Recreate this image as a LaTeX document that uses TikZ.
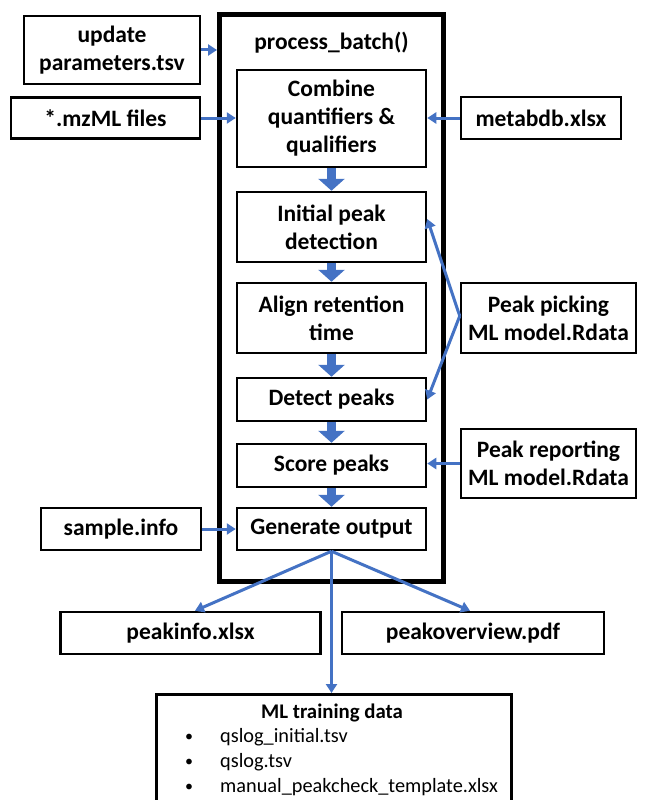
\documentclass[tikz,border=0pt]{standalone}
\usepackage{fontspec}
\setmainfont{Carlito}
\usetikzlibrary{arrows.meta}
\definecolor{arrblue}{HTML}{4472C4}
\begin{document}
\begin{tikzpicture}[x=1pt,y=-1pt,
  box/.style={draw=black,line width=2.5pt,fill=white,align=center,inner sep=0pt,
    font=\fontsize{23.5}{28}\selectfont\bfseries},
  conn/.style={draw=arrblue,line width=3pt,-{Triangle[width=11pt,length=9pt]}},
  blockarr/.style={draw=arrblue,line width=9pt,-{Triangle[width=26pt,length=12pt]}},
  txt/.style={inner sep=0pt,font=\fontsize{20.3}{25}\selectfont},
]
\useasboundingbox (0,0) rectangle (648,800);
\fill[white] (0,0) rectangle (648,800);
% outer process box
\node[draw=black,line width=5pt,minimum width=224pt,minimum height=566pt,inner sep=0pt] (pb) at (331.5,298) {};
\node[txt,font=\fontsize{23.5}{28}\selectfont\bfseries] (pbl) at (331.5,43) {process\_batch()};
% inputs
\node[box,minimum width=176pt,minimum height=68pt] (upd) at (112,50) {update\\parameters.tsv};
\node[box,minimum width=189pt,minimum height=41pt] (mz) at (105.5,118) {*.mzML files};
\node[box,minimum width=160pt,minimum height=42pt] (meta) at (541,118) {metabdb.xlsx};
\node[box,minimum width=160pt,minimum height=42pt] (samp) at (121,529) {sample.info};
\node[box,minimum width=175pt,minimum height=70pt] (pp) at (548.5,318) {Peak picking\\ML model.Rdata};
\node[box,minimum width=175pt,minimum height=69pt] (pr) at (548.5,463.5) {Peak reporting\\ML model.Rdata};
% inner steps
\node[box,minimum width=189pt,minimum height=97pt] (comb) at (331.5,118.5) {Combine\\quantifiers \&\\qualifiers};
\node[box,minimum width=189pt,minimum height=70pt] (init) at (331.5,227) {Initial peak\\detection};
\node[box,minimum width=189pt,minimum height=70pt] (align) at (331.5,318) {Align retention\\time};
\node[box,minimum width=189pt,minimum height=43pt] (detect) at (331.5,399.5) {Detect peaks};
\node[box,minimum width=189pt,minimum height=43pt] (score) at (331.5,465.5) {Score peaks};
\node[box,minimum width=189pt,minimum height=42pt] (gen) at (331.5,529) {Generate output};
% outputs
\node[box,minimum width=260pt,minimum height=42pt] (pinfo) at (190.5,633) {peakinfo.xlsx};
\node[box,minimum width=262pt,minimum height=42pt] (pov) at (473,633) {peakoverview.pdf};
\node[draw=black,line width=2.5pt,minimum width=355pt,minimum height=130pt,inner sep=0pt,anchor=north west] (ml) at (155,693) {};
\node[txt,anchor=base,font=\fontsize{20.8}{25}\selectfont\bfseries] (mlt) at (332,718) {ML training data};
\node[txt,anchor=base,font=\fontsize{16}{20}\selectfont] (b1) at (189,741) {\textbullet};
\node[txt,anchor=base west] (i1) at (220,742) {qslog\_initial.tsv};
\node[txt,anchor=base,font=\fontsize{16}{20}\selectfont] (b2) at (189,766) {\textbullet};
\node[txt,anchor=base west] (i2) at (220,767) {qslog.tsv};
\node[txt,anchor=base,font=\fontsize{16}{20}\selectfont] (b3) at (189,791) {\textbullet};
\node[txt,anchor=base west] (i3) at (220,792) {manual\_peakcheck\_template.xlsx};
% block arrows
\draw[blockarr] (comb.south) -- (init.north);
\draw[blockarr] (init.south) -- (align.north);
\draw[blockarr] (align.south) -- (detect.north);
\draw[blockarr] (detect.south) -- (score.north);
\draw[blockarr] (score.south) -- (gen.north);
% connectors
\draw[conn] (upd.east) -- (upd.east -| pb.west);
\draw[conn] (mz.east) -- (comb.west |- mz.east);
\draw[conn] (meta.west) -- (comb.east |- meta.west);
\draw[conn] (samp.east) -- (gen.west);
\draw[conn] (pr.west) -- (score.east |- pr.west);
\coordinate (ppin) at ([yshift=2pt]pp.west);
\draw[conn] (ppin) -- ([yshift=8pt]init.east);
\draw[conn] (ppin) -- (detect.east);
\draw[conn] (gen.south) -- ([xshift=4.5pt]pinfo.north);
\draw[conn] (gen.south) -- ([xshift=-3pt]pov.north);
\draw[conn] (gen.south) -- (ml.north -| gen.south);
\end{tikzpicture}
\end{document}
